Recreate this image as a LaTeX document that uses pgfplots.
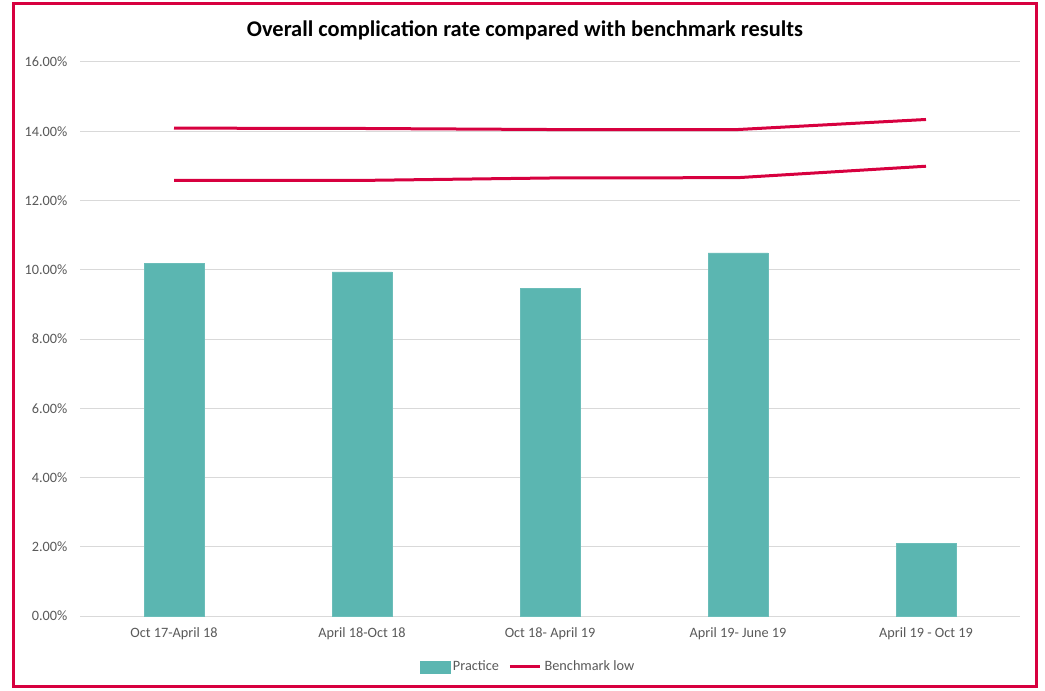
\documentclass[border=0pt]{standalone}
\usepackage{pgfplots}
\pgfplotsset{compat=1.18}
\usepackage{fontspec}
\setmainfont{Carlito}

\definecolor{practice}{HTML}{5BB6B1}
\definecolor{bench}{HTML}{D7003F}
\definecolor{gridgray}{HTML}{D9D9D9}
\definecolor{labelgray}{HTML}{595959}

\begin{document}
\begin{tikzpicture}
% page bounds and outer frame
\path (0pt,0pt) rectangle (783.75pt,517.5pt);
\draw[bench, line width=2.25pt] (9.75pt,3pt) rectangle (777pt,514.5pt);

\node[font=\fontsize{16.8}{19}\selectfont\bfseries, anchor=center] at (393.75pt,495pt)
  {Overall complication rate compared with benchmark results};

\begin{axis}[
  at={(60pt,55.5pt)}, anchor=south west,
  scale only axis,
  width=705pt, height=415.5pt,
  xmin=-0.5, xmax=4.5,
  ymin=0, ymax=16,
  ytick={0,2,4,6,8,10,12,14,16},
  xtick={0,1,2,3,4},
  xticklabels={Oct 17-April 18, April 18-Oct 18, Oct 18- April 19, April 19- June 19, April 19 - Oct 19},
  yticklabel={\pgfmathprintnumber[fixed,fixed zerofill,precision=2]{\tick}\%},
  /pgf/number format/assume math mode=true,
  ticklabel style={font=\fontsize{10.7}{12}\selectfont, text=labelgray},
  xticklabel style={yshift=-5.5pt},
  yticklabel style={xshift=-6pt},
  major tick length=0pt,
  axis line style={draw=none},
  ymajorgrids,
  grid style={gridgray, line width=0.75pt},
  legend style={at={(0.477,-0.092)}, anchor=center, draw=none, fill=none,
    font=\fontsize{10.7}{12}\selectfont, text=labelgray,
    /tikz/every even column/.append style={column sep=5pt}},
  legend columns=2,
  legend cell align=left,
]
\addplot[ybar, bar width=45pt, fill=practice, draw=practice!90!white,
  area legend,
  legend image code/.code={\fill[practice] (0pt,-4.5pt) rectangle (22.5pt,4.5pt);}]
  coordinates {(0,10.18) (1,9.94) (2,9.47) (3,10.49) (4,2.10)};
\addlegendentry{Practice}

\addplot[bench, line width=2.25pt, mark=none,
  legend image code/.code={\draw[bench, line width=2.25pt] (0pt,0pt) -- (23pt,0pt);}]
  coordinates {(0,12.58) (1,12.58) (2,12.65) (3,12.66) (4,12.99)};
\addlegendentry{Benchmark low}

\addplot[bench, line width=2.25pt, mark=none, forget plot]
  coordinates {(0,14.09) (1,14.08) (2,14.05) (3,14.05) (4,14.34)};
\end{axis}
\end{tikzpicture}
\end{document}
